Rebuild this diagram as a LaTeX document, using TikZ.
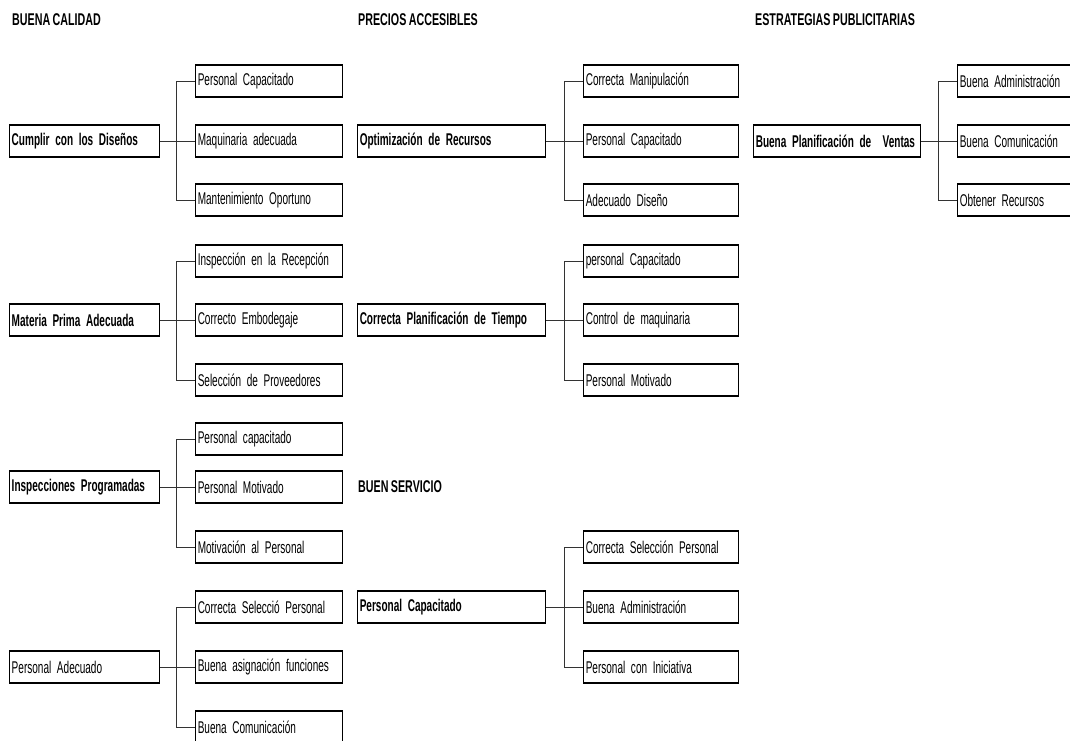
\documentclass[tikz,border=0pt]{standalone}
\usepackage{fontspec}
\setmainfont{Liberation Sans}[FakeStretch=0.59]
\newfontfamily\cabecera{Liberation Sans}[FakeStretch=0.63]
\newcommand\letra{\fontsize{17}{18}\selectfont\fontdimen2\font=2.2pt\relax}
\newcommand\letrab{\fontsize{17}{18}\selectfont\bfseries\fontdimen2\font=2.4pt\relax}
\newcommand\letrat{\cabecera\fontsize{17}{18}\selectfont\bfseries\fontdimen2\font=2.4pt\relax}

\begin{document}
\begin{tikzpicture}[x=1pt,y=-1pt,
  caja/.style={draw, line width=0.5pt, minimum height=31pt, inner xsep=2.5pt, inner ysep=0pt,
    anchor=west, align=left, font=\letra},
  causa/.style={caja, font=\letrab},
  padre1/.style={causa, text width=145pt},
  hijo1/.style={caja, text width=142pt},
  padre2/.style={causa, text width=183pt},
  hijo2/.style={caja, text width=150pt},
  padre3/.style={causa, text width=162pt},
  hijo3/.style={caja, text width=125pt},
  titulo/.style={anchor=west, inner sep=0pt, font=\letrat},
  rama/.style={draw=black!80, line width=0.8pt},
  borde/.style={line width=1.6pt, line join=miter}]
\useasboundingbox (0,0) rectangle (1070,740);

% BUENA CALIDAD
\node[titulo] (t1) at (12,20) {BUENA CALIDAD};
\node[padre1] (cd) at (9,141) {Cumplir con los Diseños};
\node[hijo1] (cd1) at (195,81) {Personal Capacitado};
\node[hijo1] (cd2) at (195,141) {Maquinaria adecuada};
\node[hijo1] (cd3) at (195,200) {Mantenimiento Oportuno};

\node[padre1] (mp) at (9,320) {Materia Prima Adecuada};
\node[hijo1] (mp1) at (195,261) {Inspección en la Recepción};
\node[hijo1] (mp2) at (195,320) {Correcto Embodegaje};
\node[hijo1] (mp3) at (195,380) {Selección de Proveedores};

\node[padre1] (ip) at (9,487) {Inspecciones Programadas};
\node[hijo1] (ip1) at (195,439) {Personal capacitado};
\node[hijo1] (ip2) at (195,487) {Personal Motivado};
\node[hijo1] (ip3) at (195,547) {Motivación al Personal};

\node[caja, text width=145pt] (pa) at (9,667) {Personal Adecuado};
\node[hijo1] (pa1) at (195,607) {Correcta Selecció Personal};
\node[hijo1] (pa2) at (195,667) {Buena asignación funciones};
\node[hijo1] (pa3) at (195,727) {Buena Comunicación};

% PRECIOS ACCESIBLES
\node[titulo] (t2) at (358,20) {PRECIOS ACCESIBLES};
\node[padre2] (or) at (357,141) {Optimización de Recursos};
\node[hijo2] (or1) at (583,81) {Correcta Manipulación};
\node[hijo2] (or2) at (583,141) {Personal Capacitado};
\node[hijo2] (or3) at (583,200) {Adecuado Diseño};

\node[padre2] (cp) at (357,320) {Correcta Planificación de Tiempo};
\node[hijo2] (cp1) at (583,261) {personal Capacitado};
\node[hijo2] (cp2) at (583,320) {Control de maquinaria};
\node[hijo2] (cp3) at (583,380) {Personal Motivado};

% BUEN SERVICIO
\node[titulo] (t4) at (358,487) {BUEN SERVICIO};
\node[padre2] (ps) at (357,607) {Personal Capacitado};
\node[hijo2] (ps1) at (583,547) {Correcta Selección Personal};
\node[hijo2] (ps2) at (583,607) {Buena Administración};
\node[hijo2] (ps3) at (583,667) {Personal con Iniciativa};

% ESTRATEGIAS PUBLICITARIAS
\node[titulo] (t3) at (755,20) {ESTRATEGIAS PUBLICITARIAS};
\node[padre3] (pv) at (753,141) {Buena Planificación de\ \ Ventas};
\node[hijo3] (pv1) at (957,81) {Buena Administración};
\node[hijo3] (pv2) at (957,141) {Buena Comunicación};
\node[hijo3] (pv3) at (957,200) {Obtener Recursos};

% ramas
\foreach \g in {cd,mp,ip,pa,or,cp,ps,pv} {
  \draw[rama] (\g.east) -- (\g2.west);
  \draw[rama] (\g1.west) -- ++(-18.5,0) |- (\g3.west);
}

% bordes gruesos
\foreach \n in {cd,cd1,cd2,cd3,mp,mp1,mp2,mp3,ip,ip1,ip2,ip3,pa,pa1,pa2,pa3,
    or,or1,or2,or3,cp,cp1,cp2,cp3,ps,ps1,ps2,ps3,pv,pv1,pv2,pv3}
  \draw[borde] (\n.north west) -- (\n.north east) -- (\n.south east) -- (\n.south west);

\end{tikzpicture}
\end{document}
